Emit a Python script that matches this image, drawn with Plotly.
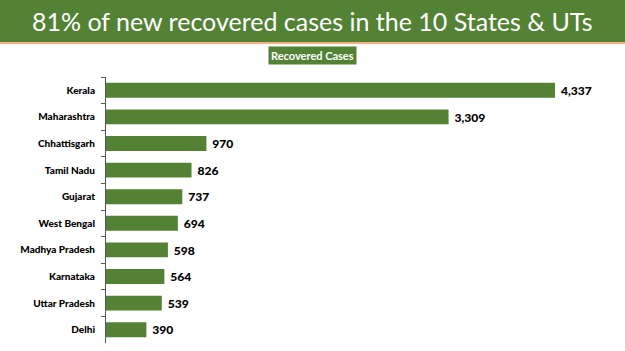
import plotly.graph_objects as go

states = ["Kerala", "Maharashtra", "Chhattisgarh", "Tamil Nadu", "Gujarat",
          "West Bengal", "Madhya Pradesh", "Karnataka", "Uttar Pradesh", "Delhi"]
recovered = [4337, 3309, 970, 826, 737, 694, 598, 564, 539, 390]
labels = [f" {v:,}" for v in recovered]

title_text = "81% of new recovered cases in the 10 States & UTs"
series_name = "Recovered Cases"

GREEN = "#548235"
W, H = 625, 351
ML, MR, MT, MB = 106, 25, 77, 8
PW = W - ML - MR
PH = H - MT - MB

def px_x(x):
    return (x - ML) / PW

def px_y(y):
    return (H - MB - y) / PH

fig = go.Figure(go.Bar(
    y=states, x=recovered, orientation="h",
    marker=dict(color=GREEN, line=dict(width=0)),
    text=labels, textposition="outside",
    textfont=dict(family="Lato", size=13, color="#000000", weight=900),
    cliponaxis=False, width=0.56,
))

fig.update_layout(
    width=W, height=H,
    margin=dict(l=ML, r=MR, t=MT, b=MB),
    paper_bgcolor="white", plot_bgcolor="white",
    showlegend=False,
    xaxis=dict(range=[0, 4337 * PW / 449], visible=False, fixedrange=True),
    yaxis=dict(autorange="reversed", showline=True, linecolor="#595959", linewidth=1,
               ticks="outside", tickson="boundaries", ticklen=4, tickcolor="#595959",
               ticklabelstandoff=8,
               tickfont=dict(family="Lato", size=10, color="#000000", weight=900),
               showgrid=False, zeroline=False),
    shapes=[
        dict(type="rect", xref="paper", yref="paper", x0=px_x(0), x1=px_x(W),
             y0=px_y(42), y1=px_y(0), fillcolor=GREEN, line=dict(width=0), layer="below"),
        dict(type="rect", xref="paper", yref="paper", x0=px_x(0), x1=px_x(W),
             y0=px_y(44), y1=px_y(42), fillcolor="#F4B183", line=dict(width=0), layer="below"),
    ],
    annotations=[
        dict(text=title_text, xref="paper", yref="paper", x=px_x(W / 2), y=px_y(21),
             xanchor="center", yanchor="middle", showarrow=False,
             font=dict(family="Lato", size=25, color="white")),
        dict(text="<b>" + series_name + "</b>", xref="paper", yref="paper",
             x=px_x(312), y=px_y(56), xanchor="center", yanchor="middle", showarrow=False,
             bgcolor=GREEN, borderpad=2,
             font=dict(family="Lato", size=11, color="white")),
    ],
)

fig.write_html("out.html")
